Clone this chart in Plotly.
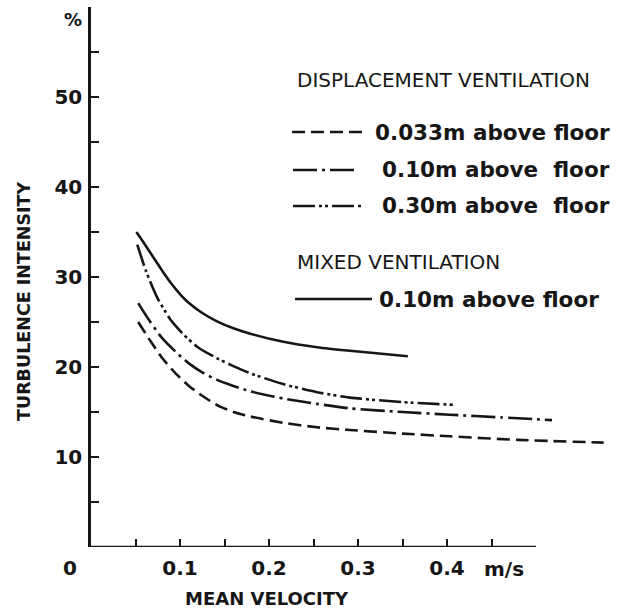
import plotly.graph_objects as go

# Mean velocity (m/s) and turbulence intensity (%) for each measuring height
disp_033_x = [0.053, 0.066, 0.080, 0.095, 0.110, 0.125, 0.141, 0.160, 0.179, 0.216,
              0.254, 0.291, 0.350, 0.403, 0.480, 0.576]
disp_033_y = [25.0, 23.0, 21.0, 19.3, 17.9, 16.8, 15.8, 15.0, 14.5, 13.8,
              13.3, 13.0, 12.6, 12.3, 11.9, 11.6]

disp_010_x = [0.053, 0.066, 0.080, 0.095, 0.110, 0.125, 0.141, 0.160, 0.179, 0.216,
              0.254, 0.291, 0.350, 0.403, 0.460, 0.518]
disp_010_y = [27.1, 25.1, 23.2, 21.7, 20.4, 19.4, 18.6, 17.9, 17.3, 16.5,
              15.9, 15.4, 15.0, 14.7, 14.4, 14.1]

disp_030_x = [0.052, 0.062, 0.074, 0.089, 0.104, 0.120, 0.141, 0.160, 0.179, 0.216,
              0.254, 0.291, 0.350, 0.407]
disp_030_y = [33.6, 30.6, 27.8, 25.3, 23.6, 22.2, 21.0, 20.1, 19.3, 18.1,
              17.2, 16.6, 16.1, 15.8]

mixed_010_x = [0.051, 0.060, 0.070, 0.080, 0.090, 0.100, 0.110, 0.125, 0.141, 0.160,
               0.179, 0.216, 0.254, 0.291, 0.356]
mixed_010_y = [35.0, 33.7, 32.2, 30.7, 29.3, 28.1, 27.1, 26.0, 25.1, 24.3,
               23.7, 22.8, 22.2, 21.8, 21.2]

x_tick_vals = [0.05, 0.10, 0.15, 0.20, 0.25, 0.30, 0.35, 0.40, 0.45]
x_tick_text = ["", "0.1", "", "0.2", "", "0.3", "", "0.4", ""]
y_tick_vals = [5, 10, 15, 20, 25, 30, 35, 40, 45, 50, 55]
y_tick_text = ["", "10", "", "20", "", "30", "", "40", "", "50", ""]

legend_header_1 = "DISPLACEMENT VENTILATION"
legend_header_2 = "MIXED VENTILATION"
legend_labels = ["0.033m above floor", "0.10m above\u00a0 floor",
                 "0.30m above\u00a0 floor", "0.10m above floor"]

W, H = 630, 611
L, R, T, B = 91, 5, 7, 64
X_RANGE = [0, 0.6]
Y_RANGE = [0, 60]

INK = "#161616"
FONT = "DejaVu Sans"
DASHED = "13px,6px"
DASHDOT = "24px,5px,3px,5px"
DASHDOTDOT = "22px,4px,3px,3px,3px,4px"


def px_to_paper(px, py):
    """Convert a page pixel position to paper coordinates."""
    return (px - L) / (W - L - R), (H - B - py) / (H - T - B)


fig = go.Figure()

series = [
    (disp_033_x, disp_033_y, DASHED),
    (disp_010_x, disp_010_y, DASHDOT),
    (disp_030_x, disp_030_y, DASHDOTDOT),
    (mixed_010_x, mixed_010_y, "solid"),
]
for xs, ys, dash in series:
    fig.add_trace(go.Scatter(
        x=xs, y=ys, mode="lines",
        line=dict(color=INK, width=2.6, dash=dash, shape="spline", smoothing=0.6),
        showlegend=False, hoverinfo="skip",
    ))

tick_font = dict(family=FONT, size=20, color=INK, weight="bold")

fig.update_xaxes(
    range=X_RANGE, showgrid=False, zeroline=False, showline=False,
    ticks="inside", ticklen=8, tickwidth=2, tickcolor=INK,
    tickvals=x_tick_vals, ticktext=x_tick_text, tickfont=tick_font,
    ticklabelstandoff=7,
)
fig.update_yaxes(
    range=Y_RANGE, showgrid=False, zeroline=False, showline=True,
    linecolor=INK, linewidth=2.5,
    ticks="inside", ticklen=8, tickwidth=2, tickcolor=INK,
    tickvals=y_tick_vals, ticktext=y_tick_text, tickfont=tick_font,
    ticklabelstandoff=2,
)

shapes = []
# horizontal axis line stops at 0.5 m/s
shapes.append(dict(type="line", xref="x", yref="y", x0=0, y0=0, x1=0.5, y1=0,
                   line=dict(color=INK, width=2.5)))

# legend samples and labels
legend_rows = [
    (292, 367, 132, DASHED, 373, legend_labels[0]),
    (293, 358, 170, DASHDOT, 380, legend_labels[1]),
    (293, 362, 206, DASHDOTDOT, 380, legend_labels[2]),
    (295, 372, 299, "solid", 377, legend_labels[3]),
]
annotations = []
for x0p, x1p, yp, dash, tx, label in legend_rows:
    ax0, ay = px_to_paper(x0p, yp)
    ax1, _ = px_to_paper(x1p, yp)
    shapes.append(dict(type="line", xref="paper", yref="paper", x0=ax0, y0=ay, x1=ax1, y1=ay,
                       line=dict(color=INK, width=2.4, dash=dash)))
    lx, ly = px_to_paper(tx, yp)
    annotations.append(dict(x=lx, y=ly, xref="paper", yref="paper", text=label,
                            showarrow=False, xanchor="left", yanchor="middle",
                            font=dict(family=FONT, size=21.5, color=INK, weight="bold")))

for text, py in [(legend_header_1, 80), (legend_header_2, 262)]:
    hx, hy = px_to_paper(295, py)
    annotations.append(dict(x=hx, y=hy, xref="paper", yref="paper", text=text,
                            showarrow=False, xanchor="left", yanchor="middle",
                            font=dict(family=FONT, size=20, color=INK)))


def add_text(px, py, text, size=20, angle=0):
    x, y = px_to_paper(px, py)
    annotations.append(dict(x=x, y=y, xref="paper", yref="paper", text=text, showarrow=False,
                            xanchor="center", yanchor="middle", textangle=angle,
                            font=dict(family=FONT, size=size, color=INK, weight="bold")))


# origin label, unit labels and axis titles
add_text(70, 568, "0")
add_text(73, 19, "%", size=18)
add_text(504, 569, "m/s")
add_text(267, 598, "MEAN VELOCITY", size=18)
add_text(24, 301, "TURBULENCE INTENSITY", size=17.5, angle=-90)

fig.update_layout(
    width=W, height=H,
    margin=dict(l=L, r=R, t=T, b=B),
    paper_bgcolor="white", plot_bgcolor="white",
    shapes=shapes, annotations=annotations,
    showlegend=False,
)

fig.write_html("out.html")
